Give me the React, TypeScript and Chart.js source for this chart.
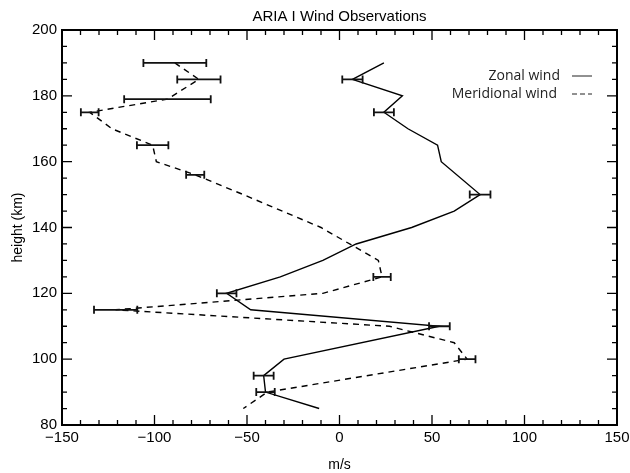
import { useEffect, useRef } from "react";
import { Chart, registerables } from "chart.js";

Chart.register(...registerables);

const chartTitle = "ARIA I Wind Observations";
const xAxisTitle = "m/s";
const yAxisTitle = "height (km)";

const zonalLabel = "Zonal wind";
const zonalHeight = [190, 185, 180, 175, 170, 165, 160, 150, 145, 140, 135, 130, 125, 120, 115, 110, 100, 95, 90, 85];
const zonalSpeed = [24, 7, 34, 24, 37, 53, 55, 76, 62, 39, 9, -9, -32, -61, -48, 54, -30, -41, -40, -11];
const zonalError = [null, 5.5, null, 5.4, null, null, null, 5.6, null, null, null, null, null, 5.3, null, 5.6, null, 5.4, 5, null];

const meridionalLabel = "Meridional wind";
const meridionalHeight = [190, 185, 179, 175, 170, 165, 160, 156, 150, 140, 130, 125, 120, 115, 110, 105, 100, 90, 85];
const meridionalSpeed = [-89, -76, -93, -135, -123, -101, -99, -78, -52, -10, 21, 23, -9, -121, 27, 62, 69, -39, -52];
const meridionalError = [17, 11.7, 23.4, 4.8, null, 8.5, null, 4.9, null, null, null, 4.7, null, 11.7, null, null, 4.5, null, null];

const xTicks = [-150, -100, -50, 0, 50, 100, 150];
const yTicks = [80, 100, 120, 140, 160, 180, 200];
const xMinorStep = 10;
const yMinorStep = 5;

const fmt = (v: number) => (v < 0 ? "\u2212" + Math.abs(v) : String(v));

const decorPlugin = {
  id: "decor",
  afterDatasetsDraw(chart: any) {
    const { ctx, chartArea, scales } = chart;
    const xs = scales.x;
    const ys = scales.y;
    const { left, right, top, bottom } = chartArea;
    ctx.save();

    // error bars
    const errSets = [zonalError, meridionalError];
    chart.data.datasets.forEach((ds: any, di: number) => {
      const errs = errSets[di];
      ctx.strokeStyle = "#111";
      ctx.lineWidth = 1.8;
      ctx.setLineDash([]);
      ds.data.forEach((p: any, i: number) => {
        const e = errs[i];
        if (e == null) return;
        const y = ys.getPixelForValue(p.y);
        const x1 = xs.getPixelForValue(p.x - e);
        const x2 = xs.getPixelForValue(p.x + e);
        ctx.beginPath();
        ctx.moveTo(x1, y);
        ctx.lineTo(x2, y);
        ctx.moveTo(x1, y - 4);
        ctx.lineTo(x1, y + 4);
        ctx.moveTo(x2, y - 4);
        ctx.lineTo(x2, y + 4);
        ctx.stroke();
      });
    });

    // frame
    ctx.strokeStyle = "#000";
    ctx.lineWidth = 2;
    ctx.strokeRect(left, top, right - left, bottom - top);

    // ticks
    ctx.lineWidth = 1.3;
    const drawX = (v: number, len: number) => {
      const x = xs.getPixelForValue(v);
      ctx.beginPath();
      ctx.moveTo(x, bottom);
      ctx.lineTo(x, bottom - len);
      ctx.moveTo(x, top);
      ctx.lineTo(x, top + len);
      ctx.stroke();
    };
    const drawY = (v: number, len: number) => {
      const y = ys.getPixelForValue(v);
      ctx.beginPath();
      ctx.moveTo(left, y);
      ctx.lineTo(left + len, y);
      ctx.moveTo(right, y);
      ctx.lineTo(right - len, y);
      ctx.stroke();
    };
    for (let v = xs.min; v <= xs.max + 1e-9; v += xMinorStep) {
      drawX(v, xTicks.includes(v) ? 10 : 5);
    }
    for (let v = ys.min; v <= ys.max + 1e-9; v += yMinorStep) {
      drawY(v, yTicks.includes(v) ? 10 : 5);
    }

    // title
    ctx.fillStyle = "#000";
    ctx.font = "15px 'Liberation Sans'";
    ctx.textAlign = "center";
    ctx.textBaseline = "middle";
    ctx.fillText(chartTitle, (left + right) / 2, 17);

    // legend
    ctx.font = "14px 'Open Sans'";
    ctx.textAlign = "right";
    ctx.fillStyle = "#222";
    const rows = [
      { label: chart.data.datasets[0].label, y: 76, dash: [] as number[], tx: 560 },
      { label: chart.data.datasets[1].label, y: 94, dash: [5, 3], tx: 557 },
    ];
    rows.forEach((r) => {
      ctx.fillText(r.label, r.tx, r.y);
      ctx.strokeStyle = "#222";
      ctx.lineWidth = 1;
      ctx.setLineDash(r.dash);
      ctx.beginPath();
      ctx.moveTo(572, r.y);
      ctx.lineTo(592, r.y);
      ctx.stroke();
    });
    ctx.restore();
  },
};

export default function App() {
  const ref = useRef<HTMLCanvasElement | null>(null);
  useEffect(() => {
    document.body.style.margin = "0";
    const canvas = ref.current;
    if (!canvas) return;
    const tickFont = { family: "'Liberation Sans'", size: 15 };
    const chart = new Chart(canvas, {
      type: "scatter",
      data: {
        datasets: [
          {
            label: zonalLabel,
            data: zonalHeight.map((h, i) => ({ x: zonalSpeed[i], y: h })),
            showLine: true,
            borderColor: "#000",
            borderWidth: 1.4,
            pointRadius: 0,
            tension: 0,
            fill: false,
          },
          {
            label: meridionalLabel,
            data: meridionalHeight.map((h, i) => ({ x: meridionalSpeed[i], y: h })),
            showLine: true,
            borderColor: "#000",
            borderWidth: 1.4,
            borderDash: [6, 5],
            pointRadius: 0,
            tension: 0,
            fill: false,
          },
        ],
      },
      options: {
        animation: false,
        responsive: false,
        devicePixelRatio: 1,
        layout: { padding: { top: 30, right: 13, left: 0, bottom: 0 } },
        plugins: {
          legend: { display: false },
          title: { display: false },
          tooltip: { enabled: false },
        },
        scales: {
          x: {
            type: "linear",
            min: -150,
            max: 150,
            afterBuildTicks: (s: any) => {
              s.ticks = xTicks.map((v) => ({ value: v }));
            },
            afterFit: (s: any) => {
              s.height = 48;
              s.paddingLeft = 0;
              s.paddingRight = 0;
            },
            grid: { display: false, drawTicks: false },
            border: { display: false },
            ticks: {
              autoSkip: false,
              maxRotation: 0,
              padding: 4,
              color: "#000",
              font: tickFont,
              callback: (v: any) => fmt(Number(v)),
            },
            title: {
              display: true,
              text: xAxisTitle,
              color: "#000",
              font: { family: "'Liberation Sans'", size: 14 },
              padding: { top: 0, bottom: -1 },
            },
          },
          y: {
            type: "linear",
            min: 80,
            max: 200,
            afterBuildTicks: (s: any) => {
              s.ticks = yTicks.map((v) => ({ value: v }));
            },
            afterFit: (s: any) => {
              s.width = 62;
              s.paddingTop = 0;
              s.paddingBottom = 0;
            },
            grid: { display: false, drawTicks: false },
            border: { display: false },
            ticks: {
              autoSkip: false,
              padding: 5,
              color: "#000",
              font: tickFont,
              callback: (v: any) => fmt(Number(v)),
            },
            title: {
              display: true,
              text: yAxisTitle,
              color: "#000",
              font: { family: "'Liberation Sans'", size: 14 },
              padding: { top: 10, bottom: 0 },
            },
          },
        },
      },
      plugins: [decorPlugin],
    } as any);
    return () => chart.destroy();
  }, []);
  return (
    <div style={{ width: 630, height: 473 }}>
      <canvas ref={ref} width={630} height={473} style={{ display: "block" }} />
    </div>
  );
}
